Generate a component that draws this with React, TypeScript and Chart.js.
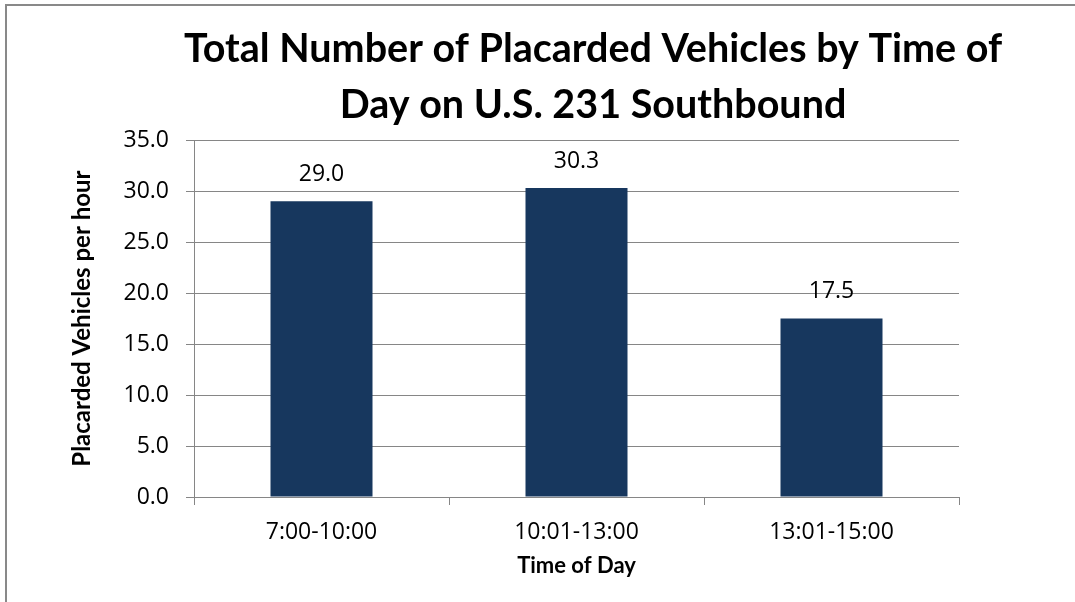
import React, { useEffect, useRef } from "react";
import { Chart, registerables } from "chart.js";

Chart.register(...registerables);

const categories = ["7:00-10:00", "10:01-13:00", "13:01-15:00"];
const placardedPerHour = [29.0, 30.3, 17.5];
const titleLines = ["Total Number of Placarded Vehicles by Time of", "Day on U.S. 231 Southbound"];
const yAxisTitle = "Placarded Vehicles per hour";
const xAxisTitle = "Time of Day";

const GRID = "#868686";
const BAR = "#17375E";

const dataLabelPlugin = {
  id: "dataLabels",
  afterDatasetsDraw(chart: any) {
    const ctx = chart.ctx;
    const meta = chart.getDatasetMeta(0);
    ctx.save();
    ctx.font = "23px 'Open Sans'";
    ctx.fillStyle = "#000";
    ctx.textAlign = "center";
    ctx.textBaseline = "middle";
    meta.data.forEach((el: any, i: number) => {
      const v = chart.data.datasets[0].data[i] as number;
      ctx.fillText(v.toFixed(1), el.x, el.y - 27);
    });
    ctx.restore();
  },
};

export default function App() {
  const ref = useRef<HTMLCanvasElement>(null);
  useEffect(() => {
    document.body.style.margin = "0";
    const chart = new Chart(ref.current!, {
      type: "bar",
      data: {
        labels: categories,
        datasets: [
          {
            data: placardedPerHour,
            backgroundColor: BAR,
            borderWidth: 0,
            barPercentage: 0.4,
            categoryPercentage: 1,
            yAxisID: "y",
          },
        ],
      },
      options: {
        animation: false,
        responsive: false,
        layout: { padding: { left: 0, right: 0, top: 0, bottom: 19 } },
        plugins: {
          legend: { display: false },
          tooltip: { enabled: false },
          title: {
            display: true,
            text: titleLines,
            color: "#000",
            font: { family: "Lato", size: 39.5, weight: "bold", lineHeight: 1.42 },
            padding: { top: 16, bottom: 7 },
          },
        },
        scales: {
          x: {
            grid: { display: true, drawOnChartArea: false, drawTicks: true, tickLength: 8, color: GRID, offset: true },
            border: { color: GRID, width: 1 },
            ticks: { color: "#000", font: { family: "Open Sans", size: 23 }, padding: 14, maxRotation: 0 },
            title: {
              display: true,
              text: xAxisTitle,
              color: "#000",
              font: { family: "Lato", size: 22, weight: "bold" },
              padding: { top: -8, bottom: 4 },
            },
          },
          y: {
            min: 0,
            max: 35,
            ticks: {
              stepSize: 5,
              color: "#000",
              font: { family: "Open Sans", size: 23 },
              padding: 17,
              callback: (v: any) => Number(v).toFixed(1),
            },
            grid: { color: GRID, tickLength: 8 },
            border: { color: GRID, width: 1 },
            title: {
              display: true,
              text: yAxisTitle,
              color: "#000",
              font: { family: "Lato", size: 24, weight: "bold" },
              padding: { top: 62, bottom: 0 },
            },
            afterFit: (s: any) => {
              s.width = 188;
            },
          },
          yRight: {
            position: "right",
            display: true,
            grid: { display: false },
            border: { display: false },
            ticks: { display: false },
            afterFit: (s: any) => {
              s.width = 221;
            },
          },
        },
      },
      plugins: [dataLabelPlugin],
    } as any);
    return () => chart.destroy();
  }, []);

  return (
    <div style={{ position: "relative", width: 1075, height: 602, overflow: "hidden", background: "#fff" }}>
      <div
        style={{
          position: "absolute",
          left: 5,
          top: 4,
          width: 1300,
          height: 800,
          border: "2px solid #898989",
          boxSizing: "border-box",
        }}
      />
      <canvas ref={ref} width={1174} height={597} style={{ position: "absolute", left: 6, top: 5 }} />
    </div>
  );
}
